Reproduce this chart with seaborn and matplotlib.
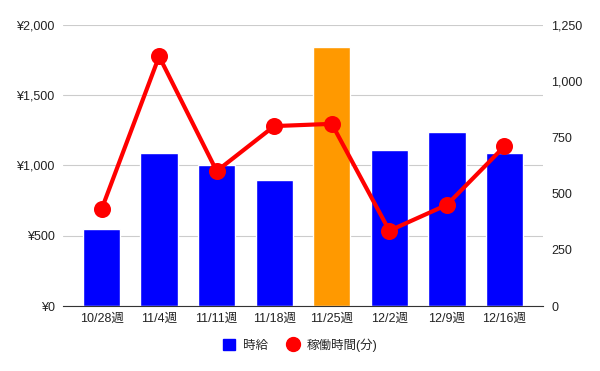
import numpy as np
import pandas as pd
import seaborn as sns
import matplotlib.pyplot as plt
from matplotlib.lines import Line2D
from matplotlib.patches import Patch
from matplotlib.ticker import FuncFormatter, MultipleLocator

# Data
weeks = ["10/28週", "11/4週", "11/11週", "11/18週", "11/25週", "12/2週", "12/9週", "12/16週"]
hourly_wage = [550, 1090, 1000, 900, 1840, 1110, 1240, 1090]
work_minutes = [430, 1110, 600, 800, 810, 335, 450, 710]
bar_colors = ["#0000ff", "#0000ff", "#0000ff", "#0000ff", "#ff9900", "#0000ff", "#0000ff", "#0000ff"]

sns.set_style("white")
plt.rcParams['font.family'] = ['Liberation Sans', 'Noto Sans CJK JP', 'DejaVu Sans']

df = pd.DataFrame({"week": weeks, "wage": hourly_wage, "minutes": work_minutes})

fig = plt.figure(figsize=(6, 3.71), dpi=100)
ax = fig.add_axes([0.105, 0.175, 0.8, 0.758])

sns.barplot(data=df, x="week", y="wage", hue="week", palette=bar_colors,
            legend=False, width=0.65, saturation=1, ax=ax)

ax.set_ylim(0, 2000)
ax.set_xlim(-0.67, len(weeks) - 0.33)
ax.yaxis.set_major_locator(MultipleLocator(500))
ax.yaxis.set_major_formatter(FuncFormatter(lambda v, p: f"¥{v:,.0f}"))
ax.grid(axis='y', color='#cccccc', linewidth=0.8)
ax.set_axisbelow(True)
for s in ["top", "left", "right"]:
    ax.spines[s].set_visible(False)
ax.spines["bottom"].set_color("#333333")
ax.tick_params(axis='both', length=0, labelsize=9, colors='#222222')
ax.tick_params(axis='y', pad=6)
ax.tick_params(axis='x', pad=5)
ax.set_xlabel("")
ax.set_ylabel("")

ax2 = ax.twinx()
sns.pointplot(data=df, x="week", y="minutes", color="#ff0000", markers="o",
              markersize=10, linewidth=3, errorbar=None, ax=ax2)
ax2.set_ylim(0, 1250)
ax2.set_xlim(-0.67, len(weeks) - 0.33)
ax2.yaxis.set_major_locator(MultipleLocator(250))
ax2.yaxis.set_major_formatter(FuncFormatter(lambda v, p: f"{v:,.0f}"))
ax2.grid(False)
for s in ["top", "left", "right", "bottom"]:
    ax2.spines[s].set_visible(False)
ax2.tick_params(axis='y', length=0, labelsize=9, colors='#222222', pad=6)
ax2.set_ylabel("")
ax2.set_xlabel("")

handles = [
    Patch(facecolor="#0000ff", edgecolor="#0000ff", label="時給"),
    Line2D([0], [0], color="#ff0000", marker="o", linestyle="none", markersize=10, label="稼働時間(分)"),
]
fig.legend(handles=handles, loc="center", bbox_to_anchor=(0.5, 0.07), ncol=2,
           frameon=False, fontsize=9, handlelength=1.0, handleheight=1.0,
           columnspacing=1.5, handletextpad=0.6)

fig.savefig("out.png", dpi=100)
